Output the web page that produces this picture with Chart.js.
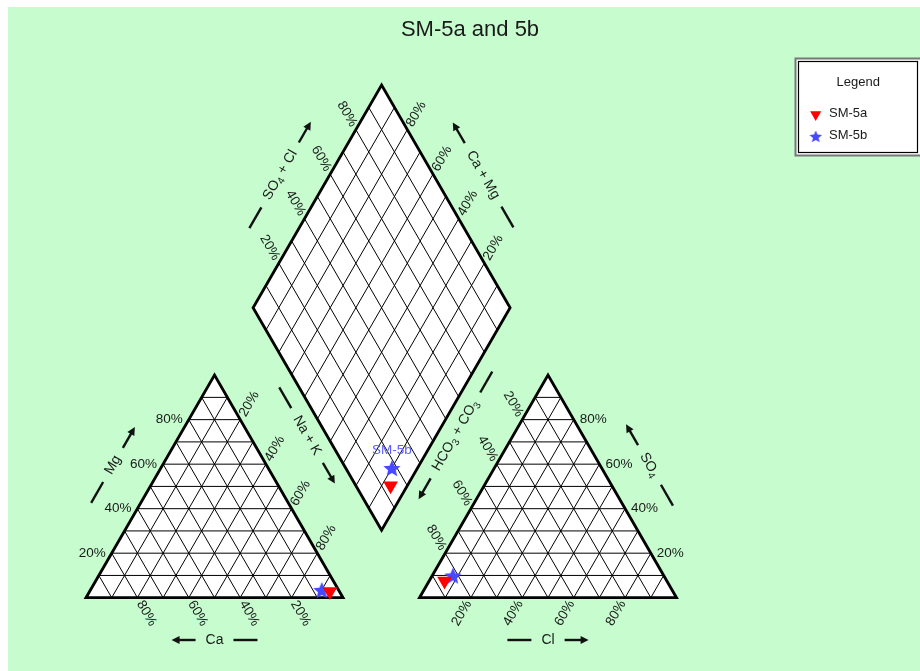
<!DOCTYPE html>
<html>
<head>
<meta charset="utf-8">
<title>SM-5a and 5b</title>
<script src="https://cdn.jsdelivr.net/npm/chart.js@4.4.1/dist/chart.umd.min.js"></script>
<style>
  html, body { margin: 0; padding: 0; background: #fff; }
  #wrap { width: 920px; height: 671px; position: relative; }
</style>
</head>
<body>
<div id="wrap"><canvas id="chart"></canvas></div>
<script>
// samples and their analyses, in percent of meq/L
const samples = ['SM-5a', 'SM-5b'];
const caPct = [3.7, 6.5];
const mgPct = [2.8, 3.5];
const naKPct = [93.5, 90.0];
const hco3Pct = [86.5, 82.0];
const so4Pct = [7.5, 10.0];
const clPct = [6.0, 8.0];

const gridPcts = [10, 20, 30, 40, 50, 60, 70, 80, 90];
const tickPcts = [20, 40, 60, 80];
const diamondLabelled = ['SM-5b'];
const titleText = 'SM-5a and 5b';

// layout, in pixels
const SIDE = 257;
const TH = SIDE * Math.sqrt(3) / 2;
const LEFT0 = {x: 86, y: 597.7};
const RIGHT0 = {x: 419.5, y: 597.7};
const DIA0 = {x: 381.6, y: 530.3};
const FONT = '"Liberation Sans", Arial, sans-serif';
const GREEN = '#c6fcce';
const RED = 'rgb(255,0,0)';
const BLUE = 'rgb(72,72,255)';

// b = component at the apex, c = component at the right corner
function tern(origin, b, c) {
  return {x: origin.x + SIDE * (c + b / 2) / 100, y: origin.y - TH * b / 100};
}
function cation(ca, mg, nak) { return tern(LEFT0, mg, nak); }
function anion(hco3, so4, cl) { return tern(RIGHT0, so4, cl); }
function diamond(caMg, so4Cl) {
  return {x: DIA0.x + SIDE / 2 * (so4Cl - caMg) / 100, y: DIA0.y - TH * (caMg + so4Cl) / 100};
}

function segs(list) {
  const out = [];
  list.forEach(([a, b]) => out.push(a, b, {x: null, y: null}));
  return out;
}

const gridSegs = [];
gridPcts.forEach(p => {
  gridSegs.push([cation(100 - p, p, 0), cation(0, p, 100 - p)]);
  gridSegs.push([cation(100 - p, 0, p), cation(0, 100 - p, p)]);
  gridSegs.push([cation(p, 0, 100 - p), cation(p, 100 - p, 0)]);
  gridSegs.push([anion(100 - p, p, 0), anion(0, p, 100 - p)]);
  gridSegs.push([anion(100 - p, 0, p), anion(0, 100 - p, p)]);
  gridSegs.push([anion(p, 0, 100 - p), anion(p, 100 - p, 0)]);
  gridSegs.push([diamond(p, 0), diamond(p, 100)]);
  gridSegs.push([diamond(0, p), diamond(100, p)]);
});

const leftShape = [cation(100, 0, 0), cation(0, 100, 0), cation(0, 0, 100)];
const rightShape = [anion(100, 0, 0), anion(0, 100, 0), anion(0, 0, 100)];
const diaShape = [diamond(0, 0), diamond(100, 0), diamond(100, 100), diamond(0, 100)];
const shapes = [leftShape, rightShape, diaShape];
const outline = [];
shapes.forEach(s => outline.push(...s, s[0], s[1], {x: null, y: null}));

function starCanvas(r, color) {
  const size = Math.ceil(r * 2 + 2);
  const c = document.createElement('canvas');
  c.width = size; c.height = size;
  const g = c.getContext('2d');
  g.fillStyle = color;
  g.beginPath();
  for (let k = 0; k < 10; k++) {
    const rad = k % 2 ? r * 0.45 : r;
    const a = -Math.PI / 2 + k * Math.PI / 5;
    const x = size / 2 + rad * Math.cos(a), y = size / 2 + 1 + rad * Math.sin(a);
    k ? g.lineTo(x, y) : g.moveTo(x, y);
  }
  g.closePath();
  g.fill();
  return c;
}

const markerStyles = [
  {pointStyle: 'triangle', rotation: 180, radius: 8.5, legendStyle: 'triangle', legendRadius: 6.4},
  {pointStyle: starCanvas(9, BLUE), rotation: 0, radius: 9, legendStyle: starCanvas(6.6, BLUE), legendRadius: 6.6}
];
const sampleColors = [RED, BLUE];

const sampleSets = samples.map((name, i) => ({
  label: name,
  isSample: true,
  data: [
    cation(caPct[i], mgPct[i], naKPct[i]),
    anion(hco3Pct[i], so4Pct[i], clPct[i]),
    diamond(caPct[i] + mgPct[i], so4Pct[i] + clPct[i])
  ],
  showLine: false,
  pointStyle: markerStyles[i].pointStyle,
  rotation: markerStyles[i].rotation,
  pointRadius: markerStyles[i].radius,
  pointBorderWidth: 0,
  backgroundColor: sampleColors[i],
  borderColor: sampleColors[i],
  order: 0
}));

// ---- drawing helpers ----
function richParts(s) { // '_' marks a one character subscript
  const parts = [];
  for (let i = 0; i < s.length; i++) {
    if (s[i] === '_') { parts.push({t: s[i + 1], sub: true}); i++; }
    else if (parts.length && !parts[parts.length - 1].sub) parts[parts.length - 1].t += s[i];
    else parts.push({t: s[i], sub: false});
  }
  return parts;
}

function drawRich(ctx, s, x, y, angle, size) {
  const parts = richParts(s);
  const big = size + 'px ' + FONT, small = Math.round(size * 0.7) + 'px ' + FONT;
  let total = 0;
  parts.forEach(p => { ctx.font = p.sub ? small : big; p.w = ctx.measureText(p.t).width; total += p.w; });
  ctx.save();
  ctx.translate(x, y);
  ctx.rotate(angle);
  ctx.textBaseline = 'middle';
  ctx.textAlign = 'left';
  let cx = -total / 2;
  parts.forEach(p => {
    ctx.font = p.sub ? small : big;
    ctx.fillText(p.t, cx, p.sub ? size * 0.3 : 0);
    cx += p.w;
  });
  ctx.restore();
  return total;
}

function axisTitle(ctx, c, angle, text, arrowSide) {
  const w = drawRich(ctx, text, c.x, c.y, angle, 14);
  const u = {x: Math.cos(angle), y: Math.sin(angle)};
  const h = w / 2 + 10, len = 24;
  const at = d => ({x: c.x + u.x * d, y: c.y + u.y * d});
  ctx.save();
  ctx.strokeStyle = '#111';
  ctx.fillStyle = '#111';
  ctx.lineWidth = 2.4;
  // plain dash
  let a = at(-arrowSide * h), b = at(-arrowSide * (h + len));
  ctx.beginPath(); ctx.moveTo(a.x, a.y); ctx.lineTo(b.x, b.y); ctx.stroke();
  // arrow
  a = at(arrowSide * h);
  b = at(arrowSide * (h + len - 7));
  const tip = at(arrowSide * (h + len));
  ctx.beginPath(); ctx.moveTo(a.x, a.y); ctx.lineTo(b.x, b.y); ctx.stroke();
  const nx = -u.y * 4, ny = u.x * 4;
  ctx.beginPath();
  ctx.moveTo(tip.x, tip.y);
  ctx.lineTo(b.x + nx - u.x * arrowSide, b.y + ny - u.y * arrowSide);
  ctx.lineTo(b.x - nx - u.x * arrowSide, b.y - ny - u.y * arrowSide);
  ctx.closePath();
  ctx.fill();
  ctx.restore();
}

const S60 = Math.sqrt(3) / 2;
const piperPlugin = {
  id: 'piper',
  beforeDraw(chart) {
    const ctx = chart.ctx;
    ctx.save();
    ctx.fillStyle = GREEN;
    ctx.fillRect(8, 7, chart.width - 8, chart.height - 7);
    ctx.restore();
  },
  beforeDatasetsDraw(chart) {
    const ctx = chart.ctx, xs = chart.scales.x, ys = chart.scales.y;
    ctx.save();
    ctx.fillStyle = '#fff';
    shapes.forEach(s => {
      ctx.beginPath();
      s.forEach((p, k) => {
        const x = xs.getPixelForValue(p.x), y = ys.getPixelForValue(p.y);
        k ? ctx.lineTo(x, y) : ctx.moveTo(x, y);
      });
      ctx.closePath();
      ctx.fill();
    });
    ctx.restore();
  },
  afterDatasetsDraw(chart) {
    const ctx = chart.ctx, xs = chart.scales.x, ys = chart.scales.y;
    const px = p => ({x: xs.getPixelForValue(p.x), y: ys.getPixelForValue(p.y)});
    const off = (e, dx, dy, d) => ({x: e.x + dx * d, y: e.y + dy * d});
    const mid = (a, b) => ({x: (a.x + b.x) / 2, y: (a.y + b.y) / 2});
    ctx.save();
    ctx.fillStyle = '#1a1a1a';

    // title
    ctx.font = '22px ' + FONT;
    ctx.textAlign = 'center';
    ctx.textBaseline = 'middle';
    ctx.fillText(titleText, 470, 30);

    // tick labels
    const up = -Math.PI / 3, down = Math.PI / 3, D = 18;
    tickPcts.forEach(p => {
      const t = p + '%';
      ctx.font = '13.5px ' + FONT;
      ctx.textBaseline = 'middle';
      let e = px(cation(100 - p, p, 0));
      ctx.textAlign = 'right';
      ctx.fillText(t, e.x - 6, e.y);
      e = px(anion(0, p, 100 - p));
      ctx.textAlign = 'left';
      ctx.fillText(t, e.x + 6, e.y);

      e = off(px(cation(0, 100 - p, p)), 0.5, -S60, D);
      drawRich(ctx, t, e.x, e.y, up, 13.5);
      e = off(px(cation(p, 0, 100 - p)), 0.5, S60, D);
      drawRich(ctx, t, e.x, e.y, down, 13.5);
      e = off(px(anion(100 - p, 0, p)), -0.5, S60, D);
      drawRich(ctx, t, e.x, e.y, up, 13.5);
      e = off(px(anion(p, 100 - p, 0)), -0.5, -S60, D);
      drawRich(ctx, t, e.x, e.y, down, 13.5);
      e = off(px(diamond(100, p)), -0.5, -S60, D);
      drawRich(ctx, t, e.x, e.y, down, 13.5);
      e = off(px(diamond(p, 100)), 0.5, -S60, D);
      drawRich(ctx, t, e.x, e.y, up, 13.5);
    });

    // axis titles
    const lA = px(leftShape[0]), lB = px(leftShape[1]), lC = px(leftShape[2]);
    const rA = px(rightShape[0]), rB = px(rightShape[1]), rC = px(rightShape[2]);
    const dB = px(diaShape[0]), dL = px(diaShape[1]), dT = px(diaShape[2]), dR = px(diaShape[3]);
    let c = off(mid(lA, lB), -S60, -0.5, 43);
    axisTitle(ctx, c, up, 'Mg', 1);
    c = off(off(mid(lB, lC), S60, -0.5, 50), 0.5, S60, -30);
    axisTitle(ctx, c, down, 'Na + K', 1);
    axisTitle(ctx, {x: mid(lA, lC).x, y: lA.y + 42.3}, 0, 'Ca', -1);
    c = off(mid(rB, rC), S60, -0.5, 43);
    axisTitle(ctx, c, down, 'SO_4', -1);
    c = off(off(mid(rA, rB), -S60, -0.5, 50), 0.5, -S60, 30);
    axisTitle(ctx, c, up, 'HCO_3 + CO_3', -1);
    axisTitle(ctx, {x: mid(rA, rC).x, y: rA.y + 42.3}, 0, 'Cl', 1);
    c = off(mid(dL, dT), -S60, -0.5, 43);
    axisTitle(ctx, c, up, 'SO_4 + Cl', 1);
    c = off(mid(dT, dR), S60, -0.5, 43);
    axisTitle(ctx, c, down, 'Ca + Mg', -1);

    // sample names in the diamond
    ctx.font = '13.5px ' + FONT;
    ctx.textAlign = 'center';
    ctx.textBaseline = 'middle';
    samples.forEach((name, i) => {
      if (!diamondLabelled.includes(name)) return;
      const p = px(sampleSets[i].data[2]);
      ctx.fillStyle = 'rgb(92,92,255)';
      ctx.fillText(name, p.x, p.y - 18);
    });

    // legend box
    ctx.fillStyle = '#fff';
    ctx.fillRect(796, 59, 130, 96);
    ctx.strokeStyle = '#777';
    ctx.lineWidth = 2;
    ctx.strokeRect(795.5, 58.5, 130, 97);
    ctx.strokeStyle = '#000';
    ctx.lineWidth = 1.2;
    ctx.strokeRect(798.5, 61.5, 119, 91);
    ctx.fillStyle = '#1a1a1a';
    ctx.font = '13px ' + FONT;
    ctx.fillText('Legend', 858.3, 82.5);
    chart.data.datasets.filter(d => d.isSample).forEach((d, i) => {
      const y = 114.5 + i * 21.5;
      ctx.fillStyle = d.backgroundColor;
      Chart.helpers.drawPoint(ctx, {
        pointStyle: markerStyles[i].legendStyle,
        rotation: markerStyles[i].rotation,
        radius: markerStyles[i].legendRadius,
        borderWidth: 0
      }, 815.7, y);
      ctx.fillStyle = '#1a1a1a';
      ctx.textAlign = 'left';
      ctx.fillText(d.label, 829, y - 1);
      ctx.textAlign = 'center';
    });
    ctx.restore();
  }
};

new Chart(document.getElementById('chart'), {
  type: 'scatter',
  data: {
    datasets: [
      ...sampleSets,
      {
        label: 'outline', data: outline, showLine: true, pointRadius: 0, pointHitRadius: 0,
        borderColor: '#000', borderWidth: 2.8, borderJoinStyle: 'miter', order: 1
      },
      {
        label: 'grid', data: segs(gridSegs), showLine: true, pointRadius: 0, pointHitRadius: 0,
        borderColor: '#000', borderWidth: 1, order: 2
      }
    ]
  },
  options: {
    responsive: true,
    maintainAspectRatio: false,
    animation: false,
    events: [],
    layout: {padding: 0, autoPadding: false},
    scales: {
      x: {type: 'linear', min: 0, max: 920, display: false},
      y: {type: 'linear', min: 0, max: 671, reverse: true, display: false}
    },
    plugins: {
      legend: {display: false},
      tooltip: {enabled: false},
      title: {display: false}
    }
  },
  plugins: [piperPlugin]
});
</script>
</body>
</html>
